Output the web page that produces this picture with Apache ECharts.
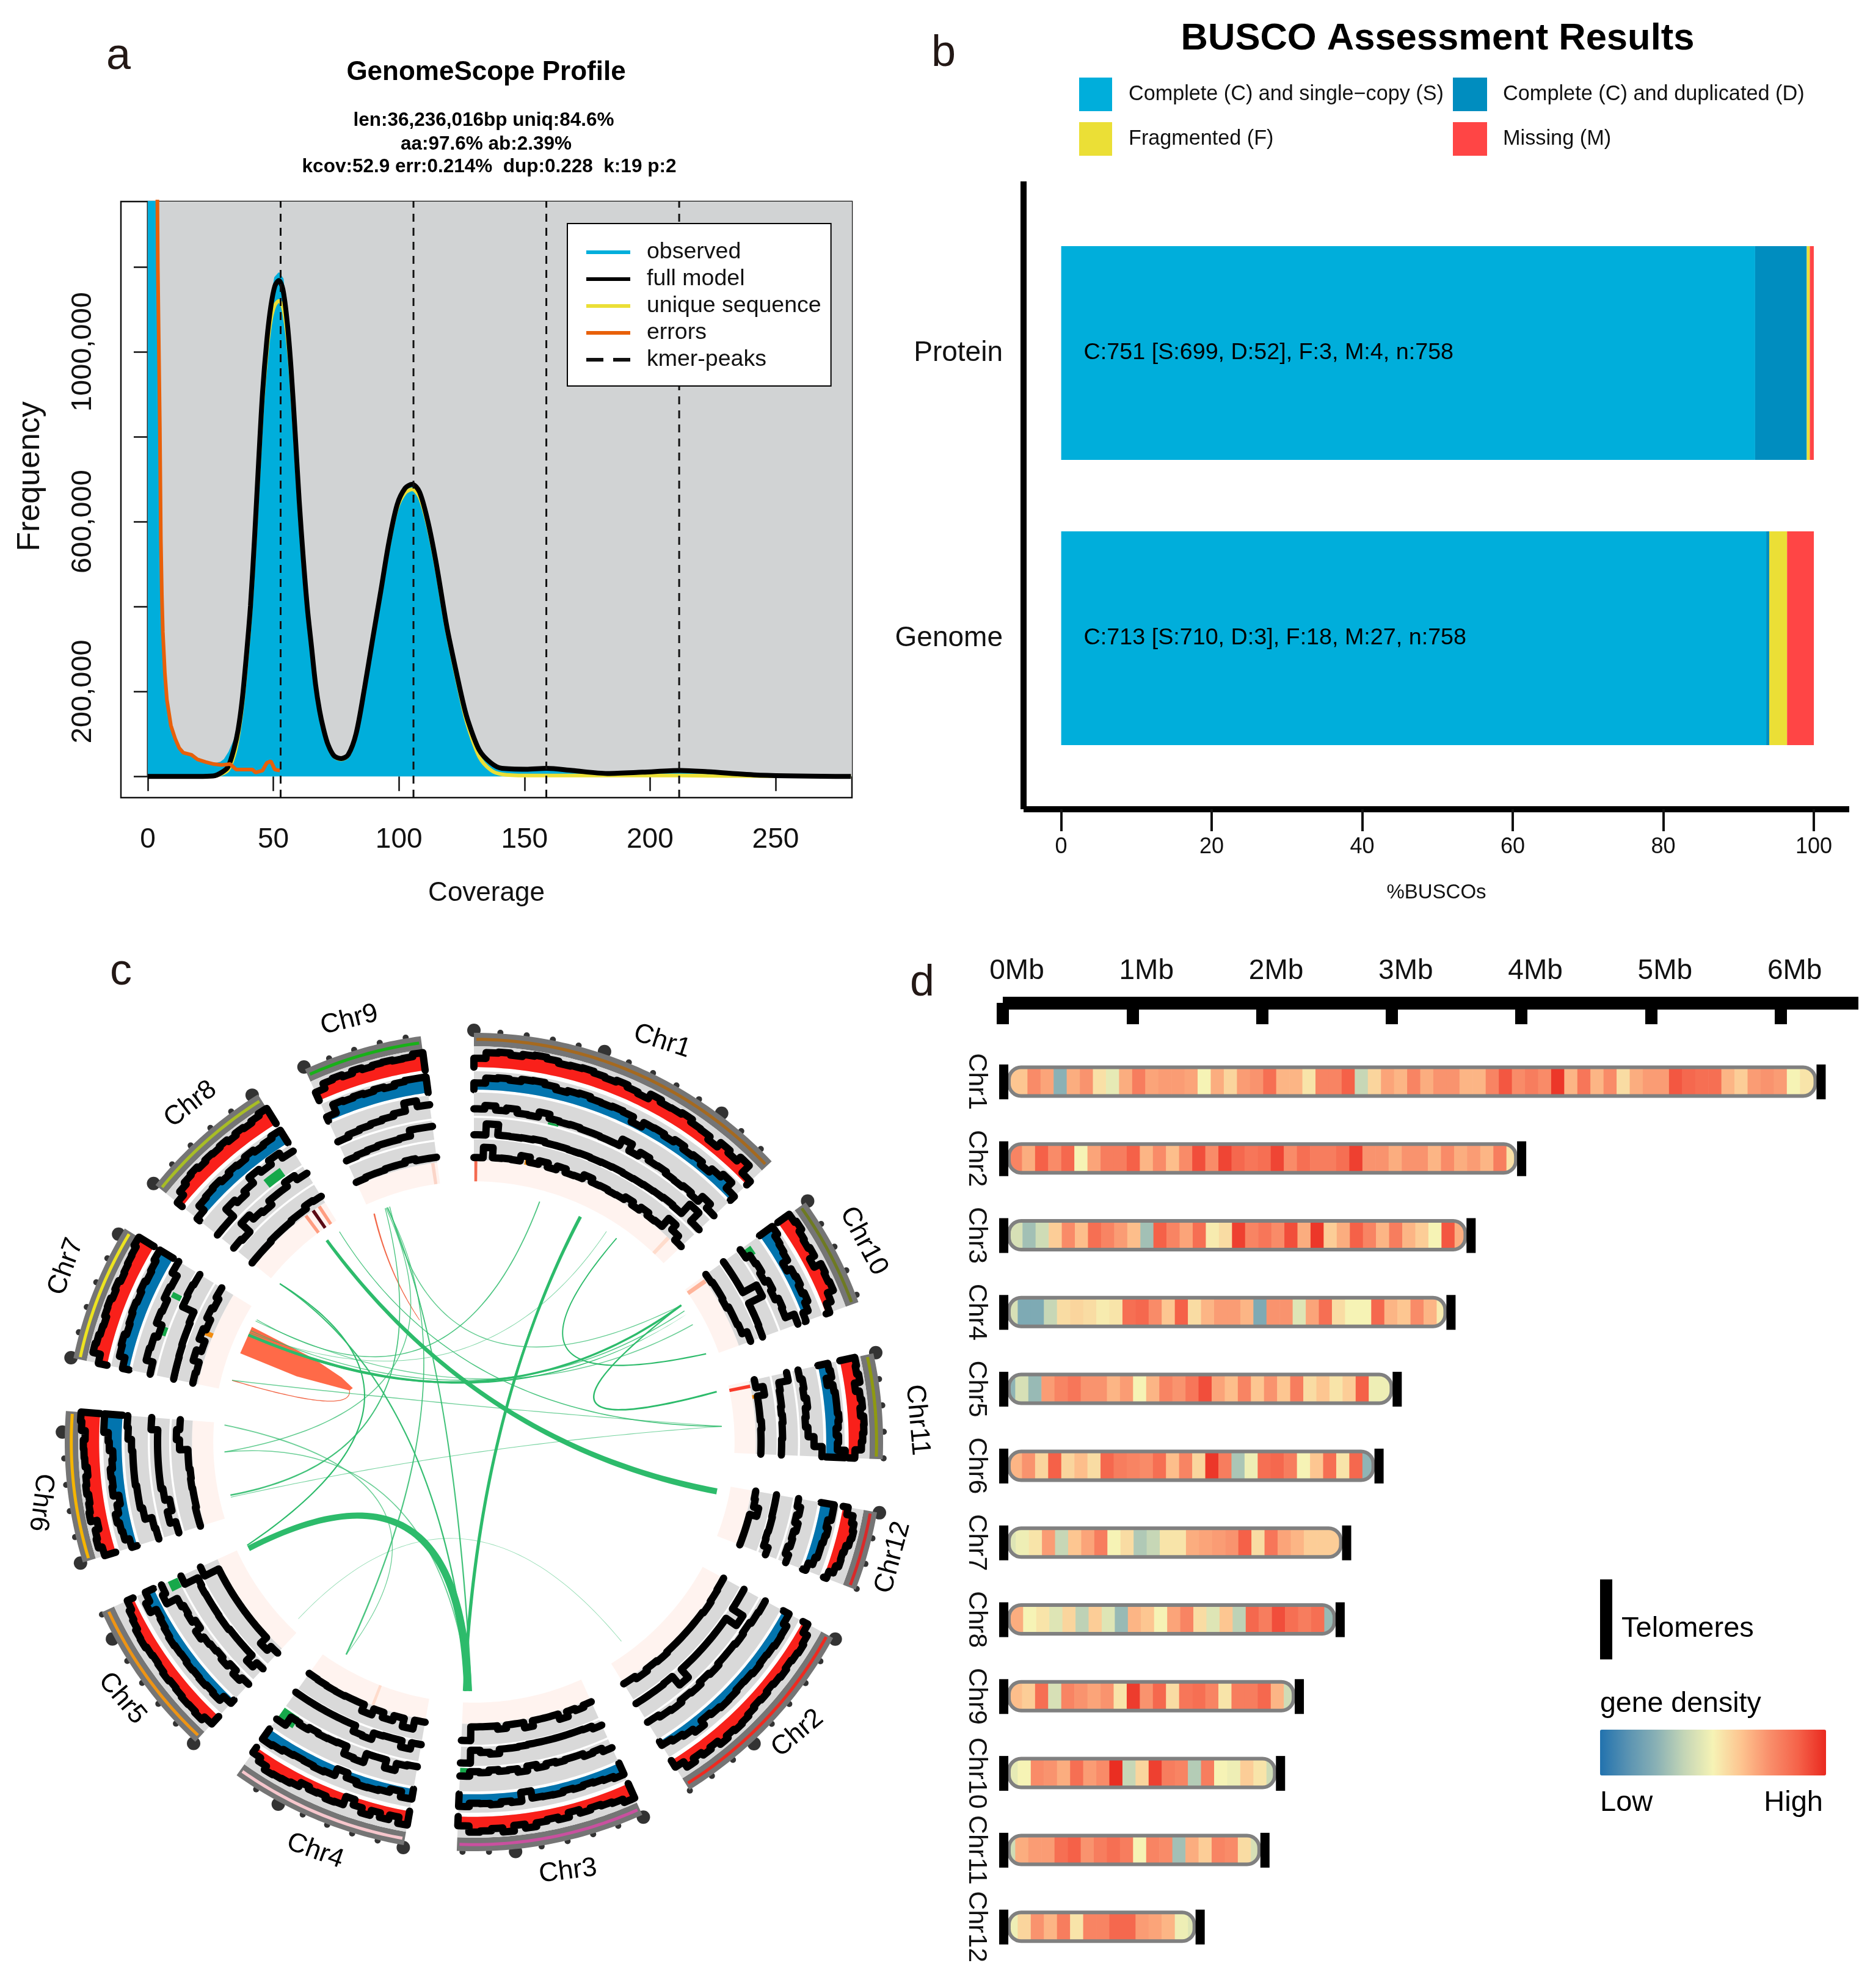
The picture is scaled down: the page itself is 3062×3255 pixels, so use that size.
<!DOCTYPE html>
<html><head><meta charset="utf-8">
<style>html,body{margin:0;padding:0;background:#fff}#c{width:3062px;height:3255px}</style>
<script src="https://cdn.jsdelivr.net/npm/echarts@6/dist/echarts.min.js"></script>
</head><body><div id="c"></div>
<script>
// ---------- panel a data ----------
const coverage=[0,20,26,29.5,32,34.4,36,37.6,39.3,40.9,42.5,44.1,45.7,47.4,49,50.6,52.2,53.8,55.5,57.1,58.7,60.3,62,63.6,65.2,66.8,68.4,70,71.7,74.1,77,79.8,83,86.3,89.5,92.8,96,99.3,102.5,105.3,108.2,111.4,114.7,118.7,120,125,127.3,132,136.6,141,150.6,158.8,169,183,197,212,222.8,243.7,280];
const fullModel=[0,0,1000,9700,23000,67000,111000,181000,287000,402000,560000,737000,904000,1027000,1107000,1155000,1168000,1147000,1071000,957000,807000,648000,507000,393000,305000,217000,155000,111000,76000,49000,42000,51000,102000,208000,322000,437000,551000,640000,679000,688000,670000,604000,507000,365000,325000,188000,135000,62000,32000,19000,17000,19000,14000,7000,10000,14000,11000,3000,0];
const uniqueSeq=[0,0,500,6000,15000,50000,95000,165000,270000,385000,540000,715000,880000,1000000,1075000,1110000,1120000,1105000,1040000,935000,790000,635000,497000,385000,298000,212000,152000,108000,74000,47000,40000,49000,100000,205000,318000,432000,545000,632000,668000,676000,658000,594000,498000,357000,317000,177000,122000,46000,15000,5000,2000,2000,2000,2000,2000,2000,1500,800,0];
const obsCoverage=[0,3.2,3.6,4.8,5.2,5.6,6,6.8,7.6,9.2,10.9,12.5,14.1,17.4,19.8,23,26.3,29,30.5,32.4,34.4,36,37.6,39.3,40.9,42.5,44.1,45.7,47.4,49,50.6,52.2,53.8,55.5,57.1,58.7,60.3,62,63.6,65.2,66.8,68.4,70,71.7,74.1,77,79.8,83,86.3,89.5,92.8,96,99.3,102.5,105.3,108.2,111.4,114.7,118.7,120,125,127.3,132,136.6,141,150.6,158.8,169,183,197,212,222.8,243.7,280];
const observed=[2500000,1800000,1354000,825000,560000,428000,340000,243000,181000,120000,89000,67000,56000,51000,40000,34000,29000,33000,40000,58000,85000,125000,181000,287000,402000,560000,737000,904000,1040000,1120000,1175000,1186000,1172000,1075000,957000,807000,648000,507000,393000,305000,217000,155000,111000,76000,49000,42000,51000,102000,208000,322000,437000,551000,640000,681000,692000,670000,604000,507000,365000,325000,188000,135000,62000,32000,18000,14000,15000,9000,5000,8000,10000,8000,2000,0];
const errCoverage=[3,3.4,4,4.8,5.2,5.6,6,6.8,7.6,9.2,10.9,12.5,14.1,17.4,19.8,23,26.3,29.5,32.8,35.2,38.4,41.7,42.9,45.7,47.4,49,50.6,52.6];
const errorsSeq=[2500000,1700000,1200000,825000,560000,428000,340000,243000,181000,120000,89000,67000,56000,51000,40000,34000,29000,27000,29000,16000,16000,16000,9000,14000,32000,36000,16000,14000];
const kmerPeaks=[52.9,105.8,158.7,211.6];
const freqTicks=[0,200000,400000,600000,800000,1000000,1200000];
const freqLabels=[200000,600000,1000000];
const covTicks=[0,50,100,150,200,250];
// ---------- panel b data ----------
const buscoCats=['Protein','Genome'];
const buscoS=[92.2,93.67],buscoD=[6.86,0.4],buscoF=[0.4,2.37],buscoM=[0.53,3.56];
const buscoText=['C:751 [S:699, D:52], F:3, M:4, n:758','C:713 [S:710, D:3], F:18, M:27, n:758'];
const pctTicks=[0,20,40,60,80,100];
// ---------- chromosomes ----------
const chrNames=['Chr1','Chr2','Chr3','Chr4','Chr5','Chr6','Chr7','Chr8','Chr9','Chr10','Chr11','Chr12'];
const chrLen=[6.31,4.0,3.61,3.455,3.04,2.9,2.65,2.6,2.285,2.14,2.02,1.52];
const circleOrder=[0,9,10,11,1,2,3,4,5,6,7,8];
const bandLine=['#a5691f','#ef2a20','#c9509f','#f6c6cc','#ee9414','#f5b400','#ece320','#a8bd25','#18b018','#6e7a22','#8f9a10','#d92a2a'];
// ---------- panel d data: density per bin ----------
const firstBinEnd=[.19,.148,.152,.115,.096,.148,.10,.157,.148,.115,.096,.115];
const density=[
[62,76,70,25,68,74,55,46,68,80,70,72,72,70,50,68,58,72,74,84,66,66,54,78,78,88,38,58,70,66,78,68,74,74,66,66,78,90,76,80,76,97,66,82,66,76,56,68,72,72,90,86,84,84,66,60,72,74,72,50,54],
[78,68,88,76,86,50,70,80,80,88,66,76,64,76,92,76,94,86,82,84,94,76,84,80,80,84,95,74,74,68,74,74,66,76,68,72,66,80,55],
[42,30,40,60,76,64,84,78,72,64,30,88,78,70,84,52,56,95,78,82,76,92,68,97,60,68,88,78,66,80,66,60,50,90,68],
[42,22,22,38,56,58,56,52,54,84,86,76,62,88,56,66,72,72,66,22,74,74,44,70,84,56,50,50,86,66,62,76,66,52],
[26,42,28,72,78,82,74,74,66,72,50,66,78,74,82,92,70,64,78,62,74,62,80,56,62,54,60,88,48,48],
[66,74,58,88,58,64,56,86,80,78,76,84,64,78,58,97,80,32,48,84,86,80,50,62,84,54,86,26],
[44,48,54,72,38,62,70,80,50,56,33,38,54,54,68,70,72,74,88,56,82,70,66,60,60,60],
[68,50,54,44,58,36,60,44,28,66,62,50,70,78,56,44,62,36,86,80,92,84,80,84,28],
[64,60,84,42,78,74,70,74,54,96,74,86,56,82,84,78,54,80,80,86,66,40],
[46,50,76,74,68,84,72,76,99,38,58,95,80,78,34,80,50,48,60,54,40],
[40,68,72,72,84,88,74,80,84,80,50,78,76,30,68,60,78,76,56,42],
[48,58,74,66,80,54,78,78,86,86,72,70,66,48,44]];
const mbTicks=[0,1,2,3,4,5,6];
// ---------- panel c data: track heights in percent, Chr1..Chr12 ----------
const redTrack=[
[35,58,62,54,62,66,60,52,55,58,52,48,55,46,40,60,50,52,58,46,44,30,52,40,60,20],
[22,42,48,44,40,46,42,38,44,40,46,52,56,50,60,44,52,40,55,30],
[62,48,42,36,44,30,48,38,44,58,42,64,48,56,60,36],
[55,30,48,30,50,30,8,42,45,35,38,28,45,50,52,55,40,25],
[40,55,50,52,48,45,50,45,42,45,50,48,40,35,25],
[45,60,55,40,65,60,55,62,58,50,58,60,62,55,70,75],
[35,65,60,55,52,60,62,55,60,52,55,58,60,70],
[25,45,55,60,52,58,55,60,52,60,55,62,70],
[35,55,60,52,62,55,60,62,58,60,70],
[55,62,50,45,52,30,60,55,60,35,15],
[60,55,62,40,55,60,50,62,60,55,50,25],
[20,45,55,60,55,45,40,42,30,12]];
const blueTrack=[
[30,52,56,50,60,62,54,42,50,54,46,44,48,44,20,42,44,36,48,34,40,26,44,60,25],
[30,48,50,45,42,46,40,38,44,46,40,32,56,40,30,20],
[55,45,40,35,40,35,42,40,38,5,45,38,48,42,40,55],
[45,20,35,40,42,30,8,40,45,40,38,42,50,55],
[20,45,40,45,42,45,40,42,45,40,35,30,60,40],
[25,45,50,60,45,30,55,50,55,45,40,55,60,80,80],
[30,55,60,50,55,60,55,62,55,60,70],
[15,45,50,55,45,55,50,60,50,55,65],
[20,60,55,60,55,62,55,65,70,70],
[70,55,50,45,20,40,45,35,45,30,5],
[45,50,25,50,55,55,55,60,55,45,55,50,85],
[60,60,45,55,50,45,45,35,15]];
const lineTrackC=[
[30,45,28,40,24,22,44,26,22,24,20,20,18,18,48,16,34,22,24,16,14,20,12,40,16],
[25,22,15,20,15,15,22,15,25,20,30,25,15],
[40,25,30,18,18,22,15,25,10,30,15,18,10,20,15,35],
[15,20,50,15,15,55,50,15,18,20,15,25,18,60],
[20,35,15,30,20,25,30,45,20,35,30,40,90,75],
[15,20,50,60,60,65,65,65,70,85,90],
[20,50,45,30,55,50,65,60,85],
[15,15,60,45,60,90,75,95,70],
[15,25,30,35,40,50,85,60],
[10,30,35,25,40,30,45,40,80],
[25,35,30,40,30,25,35,60,95],
[15,30,20,35,25,30,20,35]];
const lineTrackA=[
[12,70,15,14,16,20,14,14,12,14,12,14,16,14,16,18,20,24,20,85,24],
[15,15,80,15,15,15,15,15,15,70,12,15,15,15],
[30,15,12,12,12,12,12,12,15,18,18,40,30,18,85],
[12,45,12,12,15,50,45,12,12,12,12,12,12,12],
[25,55,15,15,15,15,20,20,18,18,18,20,15,90],
[20,50,25,50,60,60,60,60,60,95],
[10,10,12,15,15,20,85,90,85],
[20,12,75,45,35,60,60,85,60],
[20,25,30,35,35,40,70,70],
[15,15,15,95,15,15,12],
[80,30,25,25,20,25,20,20,15,15],
[12,12,12,15,15,12,15,40]];
const lineTrackB=[
[12,62,14,16,14,40,15,32,12,30,12,14,34,16,18,14,16,30,14,30,16,20,70,40,14],
[12,15,20,15,15,15,15,20,15,25,12],
[15,25,15,40,14,14,14,40,14,14,30,14,14,14,80],
[12,55,15,40,15,45,12,12,15,14,12,10],
[30,55,15,15,15,15,15,15,15,15,15,90],
[20,20,15,15,18,15,20,20,60,75,60],
[25,20,50,25,55,40,60,50,65],
[15,15,15,20,20,20,25,25,40,35],
[15,20,20,25,25,35,25,25],
[20,25,25,20,30,30,35,60],
[25,60,25,25,25,30,25,25,25],
[20,25,50,15,15,15,15]];
// small coloured fills: chr, track, from, to (fraction of chromosome), height pct, colour
const trackSpots=[[3,2,.88,1,55,'#16a84a'],[7,2,.64,.82,42,'#16a84a'],[6,2,.36,.44,32,'#16a84a'],[6,2,.70,.75,42,'#16a84a'],
 [4,2,.92,1,45,'#16a84a'],[2,2,.95,1,32,'#16a84a'],[9,2,.03,.13,55,'#16a84a'],[6,4,.5,.55,50,'#f28c0e'],[10,4,.2,.25,42,'#f28c0e'],[0,4,.22,.26,26,'#f28c0e'],[0,2,.28,.32,10,'#16a84a']];
// band stripes: angle, angular width, colour
const stripes=[[0.4,.6,'#f46a50'],[43.6,.8,'#ffdccc'],[55.2,.9,'#ffb49a'],[78.6,.7,'#f93a2a'],[201,.6,'#ffdccc'],[323.4,.7,'#ff9d80'],[325.2,.7,'#5b0a14'],[326.7,.7,'#ff9d80'],[351.6,.7,'#fbd5c8']];
// links: r1,a1, r2,a2, control r,a, width1,width2, opacity
const greenLinks=[
[.606,101.5,.610,323.9,.015,128,10,5,1],
[.609,244.7,.609,181.4,.034,280,9,13,1],
[.609,25.3,.609,181.9,.075,7.4,5.5,1.5,1],
[.609,15.3,.609,299.4,.056,294,1.8,1.2,.85],
[.608,32.2,.61,296,.05,10,1,1,.6],
[.608,35,.607,69.2,.093,1,1.8,2.2,1],
[.606,78.3,.607,56.6,.048,125,3,2,1],
[.607,56.6,.61,295.4,.045,92,3.5,3,1],
[.606,58.1,.61,296.5,.045,80,1.6,1.2,.8],
[.607,61.8,.61,299,.05,70,1.6,1.2,.7],
[.61,327.4,.607,86.4,.056,321,1.2,1.8,.85],
[.612,309.2,.609,245.5,.109,347.6,2,2.2,1],
[.612,309.2,.609,181,.142,327.6,2,2.4,.95],
[.611,339.8,.609,180.6,.198,346.3,1.6,2.4,.9],
[.611,339.4,.61,267.7,.085,8,1.4,1.6,.75],
[.611,340.3,.607,56.6,.091,299.7,1.6,1.2,.75],
[.611,339.2,.609,257.7,.068,242,1.2,2.6,.9],
[.611,339.6,.606,211,.165,3,.9,2.6,.85],
[.611,273.9,.606,211,.09,170,2,1,.7],
[.61,267.7,.609,181,.092,283.8,1.4,2,.7],
[.609,257.2,.607,86.4,.016,250,1.1,1.1,.65],
[.61,284.3,.607,86.4,.082,10.7,1.6,1,.7],
[.606,143.5,.609,224.8,.035,248,.9,.9,.5],
[.609,25.3,.609,182.2,.08,5,.1,5,1],
[.61,295.4,.607,59,.05,85,5,.1,1]];
const redLinks=[
[.609,336.4,.326,336,.46,333,2.5,1,1],
[.61,284.3,.329,292.5,.304,282,1.5,1.2,1]];
const redWedge=[[.611,297.4],[.443,297.5],[.36,296],[.324,294],[.329,292.5],[.462,290.3],[.611,290.8]];
const chrLabelXY=[[1084,1705,-18],[1306,2838,40],[930,3064,7],[516,3031,-20],[200,2781,-50],[67,2460,-97],[108,2074,70],[312,1808,38],[572,1670,14],[1414,2032,-62],[1502,2325,-85],[1462,2550,75]];

// ---------- layout ----------
const FONT='"Liberation Sans",Arial,sans-serif';
const DEG_PER_MB=7.4, GAP=(360-chrLen.reduce((a,b)=>a+b,0)*DEG_PER_MB)/12;
const chrSpan={};
(function(){let a=0;circleOrder.forEach(i=>{const e=a+chrLen[i]*DEG_PER_MB;chrSpan[i]=[a,e];a=e+GAP;});})();
const ringR={band:[.967,1.0],line:.984,pink:[.637,.689],
  tracks:[[.916,.967],[.861,.906],[.797,.854],[.745,.792],[.689,.740]]};
const trackFill=['#f9201a','#0274ae'];
const trackVals=[redTrack,blueTrack,lineTrackC,lineTrackA,lineTrackB];
const trackScale=[1.22,1.22,1,1,1];
const BIN=.101, BAR0=.047;

function pairs(x,y){return x.map((v,i)=>[v,y[i]]);}
function arc(api,r,a0,a1){const n=Math.max(2,Math.ceil(Math.abs(a1-a0)/.75));const o=[];for(let i=0;i<=n;i++)o.push(api.coord([r,a0+(a1-a0)*i/n]));return o;}
function ringPoly(api,r0,r1,a0,a1,fill){return {type:'polygon',shape:{points:arc(api,r1,a0,a1).concat(arc(api,r0,a1,a0))},style:{fill:fill}};}
function stepLine(api,vals,a0,a1,r0,r1){const st=(a1-a0)/vals.length;let o=[];vals.forEach((v,i)=>{const r=r0+(r1-r0)*v/100;o=o.concat(arc(api,r,a0+i*st,a0+(i+1)*st));});return o;}

// ---------- circos renderers ----------
function renderBands(params,api){
  const i=params.dataIndex,s=chrSpan[i],k=[];
  k.push(ringPoly(api,ringR.pink[0],ringR.pink[1],s[0],s[1],'#fff3ef'));
  k.push(ringPoly(api,ringR.band[0],ringR.band[1],s[0],s[1],'#757575'));
  k.push({type:'polyline',shape:{points:arc(api,ringR.line,s[0]+.35,s[1]-.35)},style:{stroke:bandLine[i],lineWidth:5,fill:null}});
  return {type:'group',children:k};
}
function renderStripes(params,api){const d=stripes[params.dataIndex];
  return ringPoly(api,ringR.pink[0],ringR.pink[1],d[0]-d[1]/2,d[0]+d[1]/2,d[2]);}
function renderTrack(params,api){
  const d=trackRows[params.dataIndex],chr=d[0],t=d[1],s=chrSpan[chr],rr=ringR.tracks[t],vals=trackVals[t][chr];
  const line=stepLine(api,vals,s[0],s[1],rr[0],rr[0]+(rr[1]-rr[0])*trackScale[t]);
  const base=arc(api,rr[0],s[1],s[0]);
  const k=[ringPoly(api,rr[0],rr[1],s[0],s[1],'#d9d9d9')];
  if(t<2)k.push({type:'polygon',shape:{points:line.concat(base)},style:{fill:trackFill[t]}});
  trackSpots.forEach(q=>{if(q[0]===chr&&q[1]===t){const w=s[1]-s[0];
    k.push(ringPoly(api,rr[0],rr[0]+(rr[1]-rr[0])*q[4]/100,s[0]+w*q[2],s[0]+w*q[3],q[5]));}});
  let l=line;
  if(t<2){l=[base[base.length-1]].concat(line,[base[0]]);}
  k.push({type:'polyline',shape:{points:l},style:{stroke:'#000',lineWidth:12,fill:null,lineCap:'round',lineJoin:'round'}});
  return {type:'group',children:k};
}
function ribbon(api,d,fill){
  const P0=api.coord([d[0],d[1]]),P2=api.coord([d[2],d[3]]),C=api.coord([d[4],d[5]]);
  const L=[],Rr=[],N=60;
  for(let j=0;j<=N;j++){const t=j/N,u=1-t;
    const x=u*u*P0[0]+2*u*t*C[0]+t*t*P2[0],y=u*u*P0[1]+2*u*t*C[1]+t*t*P2[1];
    let dx=2*u*(C[0]-P0[0])+2*t*(P2[0]-C[0]),dy=2*u*(C[1]-P0[1])+2*t*(P2[1]-C[1]);
    const m=Math.hypot(dx,dy)||1;dx/=m;dy/=m;
    const w=(d[6]+(d[7]-d[6])*t)/2;
    L.push([x-dy*w,y+dx*w]);Rr.unshift([x+dy*w,y-dx*w]);}
  return {type:'polygon',shape:{points:L.concat(Rr)},style:{fill:fill,opacity:d[8]}};
}
const trackRows=[];
chrNames.forEach((n,i)=>{for(let t=0;t<5;t++)trackRows.push([i,t]);});
const smallTicks=[],bigTicks=[];
chrNames.forEach((n,i)=>{for(let m=0,c=0;m<=chrLen[i]+1e-6;m+=.5,c++){const a=chrSpan[i][0]+m*DEG_PER_MB;
  if(c%5===0)bigTicks.push([1.006,a]);else smallTicks.push([1.002,a]);}});

// ---------- heat rows ----------
const heatRows=[];
density.forEach((vals,c)=>{const end=chrLen[c]-.042;vals.forEach((v,i)=>{
  const a=i===0?BAR0:firstBinEnd[c]+(i-1)*BIN;
  const b=i===vals.length-1?end:firstBinEnd[c]+i*BIN;
  heatRows.push([c,a,b,v]);});});
function chrBox(api,c){const p0=api.coord([BAR0,c]),p1=api.coord([chrLen[c]-.042,c]);const h=47;
  return {x:p0[0],y:p0[1]-h/2,width:p1[0]-p0[0],height:h};}
function renderHeat(params,api){
  const c=api.value(0),a=api.value(1),b=api.value(2);
  const box=chrBox(api,c),x0=api.coord([a,c])[0],x1=api.coord([b,c])[0];
  return {type:'rect',shape:{x:x0,y:box.y,width:x1-x0+.6,height:box.height},
    style:{fill:api.visual('color')},
    clipPath:{type:'rect',shape:{x:box.x,y:box.y,width:box.width,height:box.height,r:20}}};
}
function renderOutline(params,api){
  const c=params.dataIndex,box=chrBox(api,c);
  const t0=api.coord([.005,c]),t1=api.coord([chrLen[c],c]);
  return {type:'group',children:[
    {type:'rect',shape:{x:box.x,y:box.y,width:box.width,height:box.height,r:20},style:{fill:null,stroke:'#808080',lineWidth:6}},
    {type:'rect',shape:{x:t0[0]-7,y:t0[1]-28,width:15,height:57},style:{fill:'#000'}},
    {type:'rect',shape:{x:t1[0]-7,y:t1[1]-28,width:15,height:57},style:{fill:'#000'}}]};
}
function gText(x,y,t,size,opt){return Object.assign({type:'text',x:x,y:y,silent:true,
  style:Object.assign({text:t,fontFamily:FONT,fontSize:size,fill:'#000',textAlign:'center',textVerticalAlign:'middle'},opt||{})});}

const BLUE='#00aedb',DBLUE='#008dbf',YEL='#ebdf36',REDB='#ff4545';
const texts=[
 gText(194,93,'a',72,{fill:'#231815'}),gText(1545,88,'b',72,{fill:'#231815'}),
 gText(198,1592,'c',72,{fill:'#231815'}),gText(1510,1610,'d',72,{fill:'#231815'}),
 gText(792,197,'len:36,236,016bp uniq:84.6%',31.5,{fontWeight:'bold'}),
 gText(796,236,'aa:97.6% ab:2.39%',31.5,{fontWeight:'bold'}),
 gText(801,273,'kcov:52.9 err:0.214%  dup:0.228  k:19 p:2',31.5,{fontWeight:'bold'}),
 Object.assign(gText(50,780,'Frequency',52,{fill:'#111'}),{rotation:Math.PI/2}),
 gText(2655,2667,'Telomeres',47,{textAlign:'left'}),
 gText(2620,2790,'gene density',46.5,{textAlign:'left'}),
 gText(2620,2952,'Low',47,{textAlign:'left'}),
 gText(2985,2952,'High',47,{textAlign:'right'}),
 {type:'rect',shape:{x:2620,y:2586,width:20,height:131},style:{fill:'#000'},silent:true}
];
chrLabelXY.forEach((p,i)=>{texts.push(Object.assign(gText(p[0],p[1],chrNames[i],44),{rotation:p[2]*Math.PI/180}));});

const chart=echarts.init(document.getElementById('c'),null,{renderer:'canvas',width:3062,height:3255});
chart.setOption({
 animation:false,backgroundColor:'#fff',
 title:[
  {text:'GenomeScope Profile',left:796,top:97,textAlign:'center',textStyle:{fontFamily:FONT,fontSize:44,fontWeight:'bold',color:'#000'},padding:0},
  {text:'BUSCO Assessment Results',left:2354,top:33,textAlign:'center',textStyle:{fontFamily:FONT,fontSize:61.5,fontWeight:'bold',color:'#000'},padding:0}],
 graphic:texts,
 legend:[
  {data:[{name:'observed',icon:'rect'},{name:'full model',icon:'rect'},{name:'unique sequence',icon:'rect'},{name:'errors',icon:'rect'},
         {name:'kmer-peaks',icon:'path://M0,0h28v6h-28z M44,0h28v6h-28z'}],
   left:929,top:366,orient:'vertical',z:20,
   itemWidth:72,itemHeight:6,itemGap:6,padding:[28,16,24,31],backgroundColor:'#fff',borderColor:'#000',borderWidth:2,
   textStyle:{fontFamily:FONT,fontSize:37.5,color:'#111',padding:[0,0,0,22]}},
  {data:['Complete (C) and single\u2212copy (S)','Fragmented (F)'],left:1767,top:127,orient:'vertical',padding:0,icon:'rect',
   itemWidth:54,itemHeight:55,itemGap:18,textStyle:{fontFamily:FONT,fontSize:34.2,color:'#111',padding:[4,0,0,22]}},
  {data:['Complete (C) and duplicated (D)','Missing (M)'],left:2379,top:127,orient:'vertical',padding:0,icon:'rect',
   itemWidth:56,itemHeight:55,itemGap:18,textStyle:{fontFamily:FONT,fontSize:34.3,color:'#111',padding:[4,0,0,21]}}],
 grid:[
  {left:198,top:330,width:1197,height:976,show:true,backgroundColor:'transparent',borderColor:'#111',borderWidth:2.5},
  {left:1676,top:344.5,width:1352,height:934},
  {left:1676,top:297,width:1352,height:1028},
  {left:1642,top:1708,width:1401,height:1509.6}],
 xAxis:[
  {gridIndex:0,type:'value',min:-10.7,max:280.4,splitLine:{show:false},axisLine:{show:false},
   axisTick:{show:true,length:24,lineStyle:{color:'#111',width:2.5},customValues:covTicks},
   axisLabel:{margin:46,customValues:covTicks,fontFamily:FONT,fontSize:46,color:'#111'},
   name:'Coverage',nameLocation:'middle',nameGap:135,nameTextStyle:{fontFamily:FONT,fontSize:44,color:'#111'}},
  {gridIndex:1,type:'value',min:-5,max:104.7,show:false},
  {gridIndex:2,type:'value',min:-5,max:104.7,splitLine:{show:false},
   axisLine:{show:true,onZero:false,lineStyle:{color:'#000',width:10,cap:'butt'}},
   axisTick:{show:true,length:36,lineStyle:{color:'#111',width:4},customValues:pctTicks},
   axisLabel:{margin:44,customValues:pctTicks,fontFamily:FONT,fontSize:36,color:'#111'},
   name:'%BUSCOs',nameLocation:'middle',nameGap:120,nameTextStyle:{fontFamily:FONT,fontSize:33,color:'#111'}},
  {gridIndex:3,type:'value',min:0,max:6.6,position:'top',offset:66,splitLine:{show:false},
   axisLine:{show:true,onZero:false,lineStyle:{color:'#000',width:21,cap:'butt'}},
   axisTick:{show:true,inside:true,length:35,lineStyle:{color:'#000',width:20,cap:'butt'},customValues:mbTicks},
   axisLabel:{customValues:mbTicks,margin:29,padding:[0,0,0,46],fontFamily:FONT,fontSize:46,color:'#111',formatter:v=>v+'Mb'}}],
 yAxis:[
  {gridIndex:0,type:'value',min:-50000,max:1354000,splitLine:{show:false},axisLine:{show:false},
   axisTick:{show:true,length:23,lineStyle:{color:'#111',width:2.5},customValues:freqTicks},
   axisLabel:{customValues:freqLabels,rotate:90,margin:38,fontFamily:FONT,fontSize:47,color:'#111',
     formatter:v=>v===1000000?'1000,000':(v/1000)+',000'}},
  {gridIndex:1,type:'category',inverse:true,data:buscoCats,axisLine:{show:false},axisTick:{show:false},
   axisLabel:{margin:34,fontFamily:FONT,fontSize:46,color:'#111'}},
  {gridIndex:2,type:'value',min:0,max:1,splitLine:{show:false},axisLine:{show:true,onZero:false,lineStyle:{color:'#000',width:10,cap:'butt'}},axisTick:{show:false},axisLabel:{show:false}},
  {gridIndex:3,type:'category',inverse:true,data:chrNames,axisLine:{show:false},axisTick:{show:false},
   axisLabel:{interval:0,rotate:-90,margin:22,fontFamily:FONT,fontSize:43,color:'#111'}}],
 polar:{center:[776,2361],radius:703.5},
 angleAxis:{type:'value',min:0,max:360,startAngle:90,clockwise:true,show:false},
 radiusAxis:{type:'value',min:0,max:1.05,show:false},
 visualMap:{type:'continuous',seriesIndex:9,dimension:3,min:0,max:100,orient:'horizontal',left:2620,top:2832,itemWidth:75,itemHeight:370,padding:0,
  text:null,showLabel:false,calculable:false,hoverLink:false,
  inRange:{color:['#2272ae','#5a93b2','#8ab1b5','#c5d6b6','#f6f3b5','#fdc48f','#f98f6b','#f5634a','#e9291f']}},
 series:[
  {type:'custom',name:'plot background',xAxisIndex:0,yAxisIndex:0,z:0,silent:true,data:[[0,1354000]],
   renderItem:(p,api)=>{const a=api.coord([0,1354000]),b=api.coord([280.4,0]);return {type:'group',children:[
     {type:'rect',shape:{x:a[0],y:a[1],width:b[0]-a[0],height:b[1]-a[1]},style:{fill:'#d1d3d4'}},
     {type:'line',shape:{x1:a[0],y1:a[1],x2:a[0],y2:b[1]},z2:90,style:{stroke:'#333',lineWidth:3}}]};}},
  {type:'line',name:'observed',xAxisIndex:0,yAxisIndex:0,data:pairs(obsCoverage,observed),symbol:'none',z:2,
   lineStyle:{color:BLUE,width:2},itemStyle:{color:BLUE},areaStyle:{color:BLUE,opacity:1}},
  {type:'line',name:'unique sequence',xAxisIndex:0,yAxisIndex:0,data:pairs(coverage,uniqueSeq),symbol:'none',smooth:.3,z:3,
   lineStyle:{color:YEL,width:6},itemStyle:{color:YEL}},
  {type:'line',name:'kmer-peaks',xAxisIndex:0,yAxisIndex:0,symbol:'none',z:6,connectNulls:false,
   data:kmerPeaks.flatMap(k=>[[k,-50000],[k,1354000],['-','-']]),
   lineStyle:{color:'#111',width:3,type:[13,10]},itemStyle:{color:'#111'}},
  {type:'line',name:'full model',xAxisIndex:0,yAxisIndex:0,data:pairs(coverage,fullModel),symbol:'none',smooth:.3,z:4,
   lineStyle:{color:'#000',width:8},itemStyle:{color:'#000'}},
  {type:'line',name:'errors',xAxisIndex:0,yAxisIndex:0,data:pairs(errCoverage,errorsSeq),symbol:'none',z:5,
   lineStyle:{color:'#e8600a',width:6},itemStyle:{color:'#e8600a'}},
  // busco
  {type:'bar',name:'Complete (C) and single\u2212copy (S)',xAxisIndex:1,yAxisIndex:1,stack:'b',barWidth:350,data:buscoS,itemStyle:{color:BLUE},
   label:{show:true,position:'insideLeft',distance:37,formatter:p=>buscoText[p.dataIndex],fontFamily:FONT,fontSize:37.7,color:'#000'}},
  {type:'bar',name:'Complete (C) and duplicated (D)',xAxisIndex:1,yAxisIndex:1,stack:'b',data:buscoD,itemStyle:{color:DBLUE}},
  {type:'bar',name:'Fragmented (F)',xAxisIndex:1,yAxisIndex:1,stack:'b',data:buscoF,itemStyle:{color:YEL}},
  // heat (index 9)
  {type:'custom',name:'gene density',xAxisIndex:3,yAxisIndex:3,data:heatRows,renderItem:renderHeat,encode:{x:1,y:0},z:2,clip:false},
  {type:'bar',name:'Missing (M)',xAxisIndex:1,yAxisIndex:1,stack:'b',data:buscoM,itemStyle:{color:REDB}},
  {type:'custom',name:'chromosomes',xAxisIndex:3,yAxisIndex:3,data:chrLen.map((v,i)=>[v,i]),encode:{x:0,y:1},renderItem:renderOutline,z:3,clip:false},
  // circos
  {type:'custom',name:'bands',coordinateSystem:'polar',data:chrLen.map((v,i)=>[1,i]),renderItem:renderBands,z:2},
  {type:'custom',name:'band stripes',coordinateSystem:'polar',data:stripes.map(d=>[.66,d[0]]),renderItem:renderStripes,z:3},
  {type:'custom',name:'red links',coordinateSystem:'polar',data:redLinks.map(d=>[d[0],d[1]]),renderItem:(p,api)=>ribbon(api,redLinks[p.dataIndex],'#f2694a'),z:3},
  {type:'custom',name:'red wedge',coordinateSystem:'polar',data:[[.6,294]],z:3,
   renderItem:(p,api)=>({type:'polygon',shape:{points:redWedge.map(q=>api.coord(q))},style:{fill:'#ff6a48'}})},
  {type:'custom',name:'green links',coordinateSystem:'polar',data:greenLinks.map(d=>[d[0],d[1]]),renderItem:(p,api)=>ribbon(api,greenLinks[p.dataIndex],'#2dbb6b'),z:4},
  {type:'custom',name:'tracks',coordinateSystem:'polar',data:trackRows.map(d=>[.8,d[0]]),renderItem:renderTrack,z:5},
  {type:'scatter',name:'minor ticks',coordinateSystem:'polar',clip:false,data:smallTicks,symbolSize:10,itemStyle:{color:'#000'},z:1},
  {type:'scatter',name:'major ticks',coordinateSystem:'polar',clip:false,data:bigTicks,symbolSize:22,itemStyle:{color:'#000'},z:1}
 ]
});
</script></body></html>
